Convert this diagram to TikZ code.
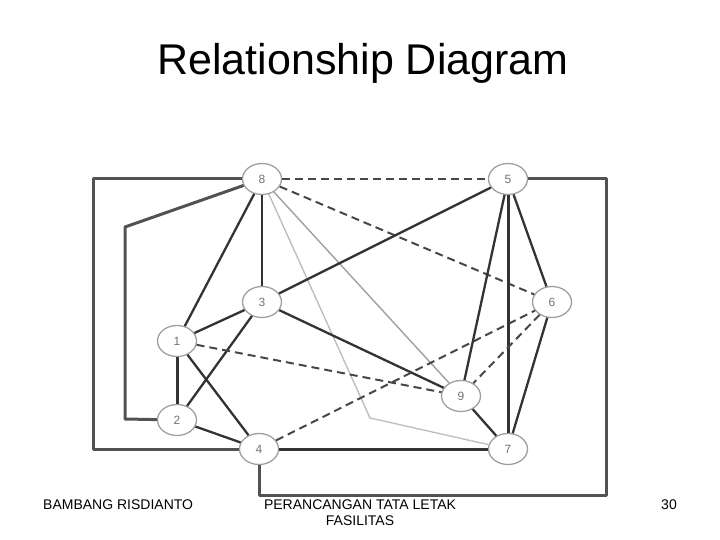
\documentclass[tikz,border=0pt]{standalone}
\usepackage{fontspec}
\setmainfont{Liberation Sans}
\usetikzlibrary{shapes.geometric}

\tikzset{
  dept/.style={ellipse, draw=gray!75, line width=1.3pt, fill=white,
    minimum width=39pt, minimum height=31pt, inner sep=0pt,
    font=\fontsize{12}{12}\selectfont, text=gray!90!black},
  link/.style={draw=black!80, line width=2.3pt},
  heavy/.style={draw=black!80, line width=3pt},
  dlink/.style={draw=black!72, line width=2pt, dash pattern=on 8pt off 5pt},
  glink/.style={draw=gray!75, line width=1.4pt},
  tlink/.style={draw=gray!60, line width=1.4pt, dash pattern=on 1.2pt off 0.5pt},
  frame/.style={draw=black!68, line width=3pt, line join=round},
}

\begin{document}
\begin{tikzpicture}[x=1pt, y=-1pt]
    \useasboundingbox (0,0) rectangle (720,540);

    \node[anchor=base, font=\fontsize{43}{43}\selectfont] (title) at (363,75) {Relationship Diagram};

    \node[dept] (N8) at (262,179) {8};
    \node[dept] (N5) at (508,179) {5};
    \node[dept] (N3) at (262,302) {3};
    \node[dept] (N6) at (552,302) {6};
    \node[dept] (N1) at (177,341) {1};
    \node[dept] (N2) at (177,420) {2};
    \node[dept] (N9) at (461,396) {9};
    \node[dept] (N4) at (259,449) {4};
    \node[dept] (N7) at (508,449) {7};

    \coordinate (outerTop) at (93,179);
    \coordinate (outerBot) at (93,449);
    \coordinate (innerTop) at (125,227);
    \coordinate (innerBot) at (125,419);
    \coordinate (rightTop) at (606,179);
    \coordinate (rightBot) at (606,495);
    \coordinate (underFour) at (259,495);
    \coordinate (kink) at (370,418);

    \draw[frame] (N8) -- (outerTop) -- (outerBot) -- (N4);
    \draw[frame] (N8) -- (innerTop) -- (innerBot) -- (N2);
    \draw[frame] (N5) -- (rightTop) -- (rightBot) -- (underFour) -- (N4);

    \draw[dlink] (N8) -- (N5);
    \draw[dlink] (N8) -- (N6);
    \draw[link] (N8) -- (N3);
    \draw[link] (N8) -- (N1);
    \draw[glink] (N8) -- (N9);
    \draw[tlink] (N8) -- (kink) -- (N7);
    \draw[link] (N3) -- (N5);
    \draw[link] (N3) -- (N1);
    \draw[link] (N3) -- (N2);
    \draw[link] (N3) -- (N9);
    \draw[heavy] (N1) -- (N2);
    \draw[link] (N1) -- (N4);
    \draw[dlink] (N1) -- (N9);
    \draw[link] (N2) -- (N4);
    \draw[dlink] (N4) -- (N6);
    \draw[heavy] (N4) -- (N7);
    \draw[link] (N5) -- (N9);
    \draw[heavy] (N5) -- (N7);
    \draw[link] (N5) -- (N6);
    \draw[dlink] (N6) -- (N9);
    \draw[link] (N6) -- (N7);
    \draw[link] (N9) -- (N7);

    \node[anchor=base west, inner sep=0pt, font=\fontsize{14}{14}\selectfont] (author) at (43,509) {BAMBANG RISDIANTO};
    \node[anchor=north, inner sep=0pt, align=center, font=\fontsize{14}{16}\selectfont] (course) at (360,500) {PERANCANGAN TATA LETAK\\FASILITAS};
    \node[anchor=base east, inner sep=0pt, font=\fontsize{14}{14}\selectfont] (page) at (677,509) {30};
  \end{tikzpicture}
\end{document}
